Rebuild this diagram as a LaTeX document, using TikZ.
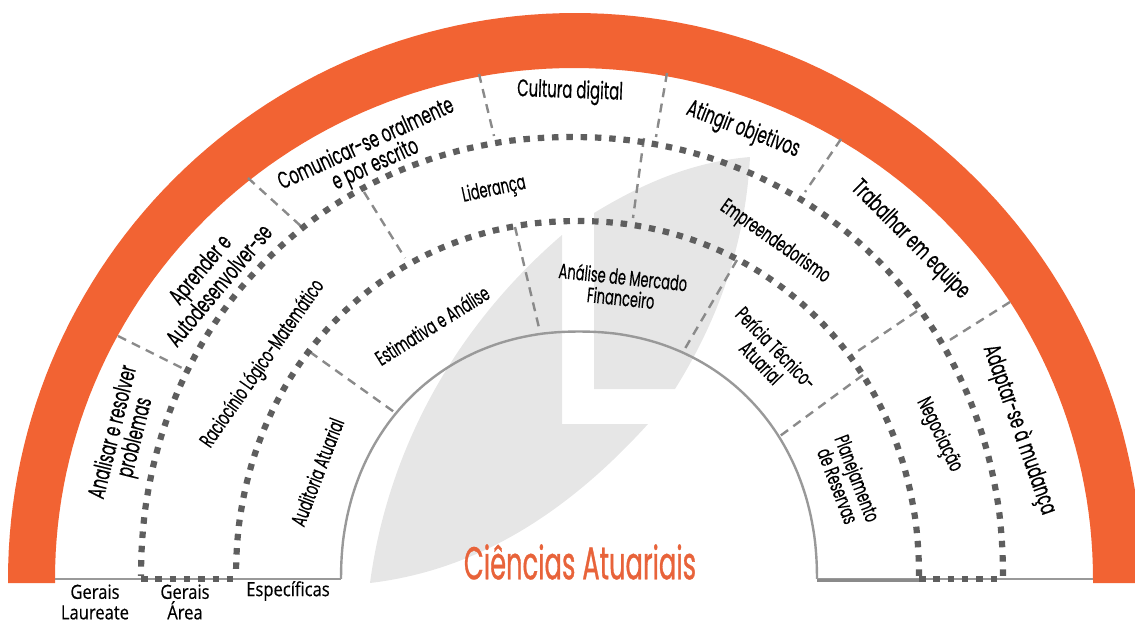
\documentclass[tikz,border=0pt]{standalone}
\usepackage{fontspec}
\setmainfont{Poppins}[FakeStretch=0.62,FakeBold=0.35]
\newfontfamily\basefont{Open Sans}[FakeStretch=0.85,FakeBold=0.4]
\newfontfamily\titlefont{Poppins}[FakeStretch=0.56,FakeBold=0.7]
\definecolor{orangebar}{HTML}{F26333}
\definecolor{titleorange}{HTML}{E8633A}
\definecolor{leafgrey}{HTML}{E6E6E6}
\definecolor{ringgrey}{HTML}{5E5E5E}
\definecolor{sepgrey}{HTML}{8A8A8A}
\definecolor{arcgrey}{HTML}{999999}
\tikzset{
  x=1pt,y=-1pt,
  declare function={
    cx(\t,\n)=(cos(\t)<0?-1:1)*max(abs(cos(\t)),0.0002)^(2/\n);
    sy(\t,\n)=max(abs(sin(\t)),0.0002)^(2/\n);
  },
  ringline/.style={color=ringgrey,line width=6.2pt,dash pattern=on 6.5pt off 7.8pt},
  sepline/.style={color=sepgrey,line width=2.4pt,dash pattern=on 9pt off 6.5pt},
  arcline/.style={color=arcgrey,line width=2.4pt},
  lab/.style={inner sep=0pt,align=center,font=\fontsize{24}{22.5}\selectfont,text=black},
  labsmall/.style={inner sep=0pt,align=center,font=\fontsize{21}{21}\selectfont,text=black},
  baselab/.style={inner sep=0pt,align=center,font=\basefont\fontsize{19.5}{20.5}\selectfont,text=black},
}
\begin{document}
\begin{tikzpicture}
\useasboundingbox (0,0) rectangle (1135,619);
\clip (0,0) rectangle (1135,619);
% leaf
\fill[leafgrey] (370,583) .. controls (385,470) and (440,340) .. (562,235) -- (562,424) -- (648,424)
  .. controls (570,510) and (480,570) .. (370,583) -- cycle;
\fill[leafgrey] (750,157) .. controls (690,162) and (640,185) .. (594,213) -- (594,389) -- (675,389)
  .. controls (715,325) and (745,250) .. (750,157) -- cycle;
% orange band
\fill[orangebar] (8,583) -- (8,579)
  -- plot[variable=\t,domain=180:0,samples=121] ({575+567*cx(\t,2)},{579-566*sy(\t,2)})
  -- (1142,583) -- (1093,583) -- (1093,579)
  -- plot[variable=\t,domain=0:180,samples=121] ({574+519*cx(\t,2)},{579-511*sy(\t,2)})
  -- (55,583) -- cycle;
% base lines
\draw[arcline] (55,579) -- (341,579);
\draw[arcline] (817,579) -- (1093,579);
\draw[color=sepgrey,line width=3pt] (817,580) -- (919,580);
% inner arc
\draw[arcline] plot[variable=\t,domain=0:180,samples=121] ({579+238*cx(\t,2.12)},{579-247.5*sy(\t,2.12)});
% separators
\coordinate (s1a) at (118,336); \coordinate (s1b) at (188,371);
\coordinate (s2a) at (248,178); \coordinate (s2b) at (303,228);
\coordinate (s3a) at (479,74);  \coordinate (s3b) at (494,136);
\coordinate (s4a) at (667,73);  \coordinate (s4b) at (656,137);
\coordinate (s5a) at (841,139); \coordinate (s5b) at (805,192);
\coordinate (s6a) at (1010,302);\coordinate (s6b) at (945,343);
\coordinate (m1a) at (364,192); \coordinate (m1b) at (405,258);
\coordinate (m2a) at (644,138); \coordinate (m2b) at (633,218);
\coordinate (m3a) at (917,311); \coordinate (m3b) at (852,355);
\coordinate (i1a) at (310,352); \coordinate (i1b) at (397,414);
\coordinate (i2a) at (515,227); \coordinate (i2b) at (540,332);
\coordinate (i3a) at (737,260); \coordinate (i3b) at (683,352);
\coordinate (i4a) at (863,375); \coordinate (i4b) at (780,436);
\foreach \a/\b in {s1a/s1b,s2a/s2b,s3a/s3b,s4a/s4b,s5a/s5b,s6a/s6b,m1a/m1b,m2a/m2b,m3a/m3b,i1a/i1b,i2a/i2b,i3a/i3b,i4a/i4b}
  \draw[sepline] (\a) -- (\b);
% dashed rings
\draw[ringline] plot[variable=\t,domain=0:180,samples=121] ({572+431*cx(\t,2.06)},{576-439*sy(\t,2.06)});
\draw[ringline] plot[variable=\t,domain=0:180,samples=121] ({577.5+341.5*cx(\t,2.06)},{576-355*sy(\t,2.06)});
\draw[ringline] (141,579) -- (236,579);
\draw[ringline] (919,579) -- (1003,579);
% labels
\node[lab,rotate=76] (t1) at (125,435) {Analisar e resolver\\problemas};
\node[lab,rotate=50] (t2) at (209,277) {Aprender e\\Autodesenvolver-se};
\node[lab,rotate=24.5] (t3) at (371,155) {Comunicar-se oralmente\\e por escrito};
\node[lab,rotate=-2] (t4) at (570,92) {Cultura digital};
\node[lab,rotate=-21] (t5) at (743,130) {Atingir objetivos};
\node[lab,rotate=-45] (t6) at (910,240) {Trabalhar em equipe};
\node[lab,rotate=-70.5] (t7) at (1019,430) {Adaptar-se à mudança};
\node[labsmall,rotate=12] (t8) at (494,190) {Liderança};
\node[labsmall,rotate=55] (t9) at (263,364) {Raciocínio Lógico-Matemático};
\node[labsmall,rotate=-35] (t10) at (775,242) {Empreendedorismo};
\node[labsmall,rotate=-64] (t11) at (939,435) {Negociação};
\node[labsmall,rotate=32] (t12) at (432,325) {Estimativa e Análise};
\node[labsmall,rotate=-6] (t13) at (622,287) {Análise de Mercado\\Financeiro};
\node[labsmall,rotate=-46] (t14) at (769,355) {Perícia Técnico-\\Atuarial};
\node[labsmall,rotate=-69] (t15) at (848,482) {Planejamento\\de Reservas};
\node[labsmall,rotate=69] (t16) at (317,472) {Auditoria Atuarial};
\node[baselab] (b1) at (95,602) {Gerais\\Laureate};
\node[baselab] (b2) at (185,602) {Gerais\\Área};
\node[baselab] (b3) at (288,591) {Específicas};
\node[inner sep=0pt,text=titleorange,font=\titlefont\fontsize{46}{46}\selectfont] (title) at (580,562) {Ciências Atuariais};
\end{tikzpicture}
\end{document}
